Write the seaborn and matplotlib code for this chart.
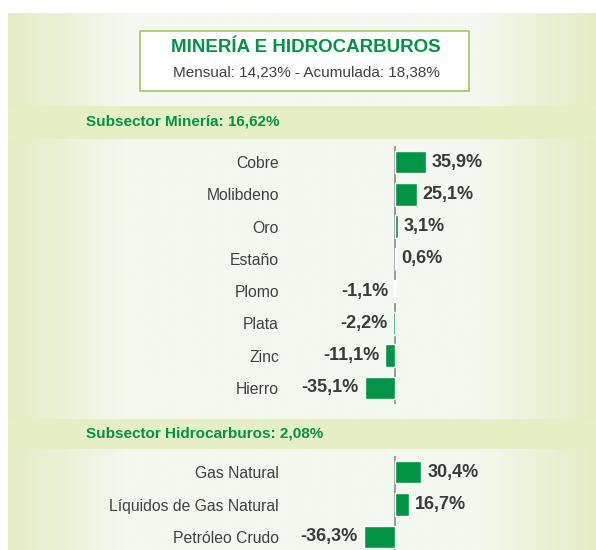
import numpy as np
import pandas as pd
import matplotlib
matplotlib.use("Agg")
import matplotlib.pyplot as plt
import seaborn as sns
from matplotlib import font_manager
from matplotlib.patches import Rectangle

# Data
mineria_items = ["Cobre", "Molibdeno", "Oro", "Estaño", "Plomo", "Plata", "Zinc", "Hierro"]
mineria_values = [35.9, 25.1, 3.1, 0.6, -1.1, -2.2, -11.1, -35.1]
hidro_items = ["Gas Natural", "Líquidos de Gas Natural", "Petróleo Crudo"]
hidro_values = [30.4, 16.7, -36.3]

title = "MINERÍA E HIDROCARBUROS"
subtitle = "Mensual: 14,23% - Acumulada: 18,38%"
sub1 = "Subsector Minería: 16,62%"
sub2 = "Subsector Hidrocarburos: 2,08%"

GREEN = "#009444"
TEXT = "#404040"
W, H = 596, 550

sns.set_theme(style="white")
names = {f.name for f in font_manager.fontManager.ttflist}
narrow = "Liberation Sans Narrow" if "Liberation Sans Narrow" in names else "Liberation Sans"
plt.rcParams["font.family"] = [narrow, "DejaVu Sans"]

fig = plt.figure(figsize=(W / 100, H / 100), dpi=100)
fig.patch.set_facecolor("white")


def fx(px):
    return px / W


def fy(py):
    return 1 - py / H


# background panel with horizontal gradient
bg = fig.add_axes([fx(8), 0, fx(W - 8), fy(13)])
xs = np.linspace(0, 1, 600)
edge = np.array([229, 236, 196]) / 255
mid = np.array([243, 248, 240]) / 255
t = np.clip(np.minimum(xs, 1 - xs) / 0.2, 0, 1)
row = edge[None, :] * (1 - t[:, None]) + mid[None, :] * t[:, None]
bg.imshow(np.repeat(row[None, :, :], 2, axis=0), aspect="auto", extent=[0, 1, 0, 1])
bg.set_axis_off()

# section bands
for top, bot in [(106, 139), (419, 449)]:
    fig.patches.append(Rectangle((fx(8), fy(bot)), fx(W - 8), (bot - top) / H,
                                 transform=fig.transFigure, facecolor="#e6eec4",
                                 edgecolor="none", zorder=1))

# title box
fig.patches.append(Rectangle((fx(140), fy(91)), fx(329), 60 / H, transform=fig.transFigure,
                             facecolor="white", edgecolor="#9ccc5a", linewidth=1.2, zorder=2))
fig.text(fx(306), fy(47), title, ha="center", va="center", color=GREEN,
         fontsize=13.5, fontweight="bold", zorder=3)
fig.text(fx(306), fy(73), subtitle, ha="center", va="center", color=TEXT,
         fontsize=11, zorder=3)
fig.text(fx(86), fy(122), sub1, ha="left", va="center", color=GREEN,
         fontsize=11, fontweight="bold", zorder=3)
fig.text(fx(86), fy(434), sub2, ha="left", va="center", color=GREEN,
         fontsize=11, fontweight="bold", zorder=3)

ZERO, LEFT, RIGHT = 395, 290, 590
SCALE = 0.86
xlim = (-(ZERO - LEFT) / SCALE, (RIGHT - ZERO) / SCALE)


def bar_panel(items, values, top, bottom):
    ax = fig.add_axes([fx(LEFT), fy(bottom), fx(RIGHT - LEFT), (bottom - top) / H])
    ax.patch.set_alpha(0)
    df = pd.DataFrame({"item": items, "value": values})
    sns.barplot(data=df, y="item", x="value", color=GREEN, saturation=1,
                width=0.69, orient="h", ax=ax)
    ax.set_xlim(*xlim)
    ax.set_ylim(len(items) - 0.5, -0.5)
    ax.axvline(0, color="#8a8a8a", linewidth=1.2, zorder=0)
    for s in ax.spines.values():
        s.set_visible(False)
    ax.set_xticks([])
    ax.set_xlabel("")
    ax.set_ylabel("")
    ax.tick_params(axis="y", length=0, pad=8, labelsize=11.3, labelcolor=TEXT)
    for i, v in enumerate(values):
        lab = f"{v:.1f}%".replace(".", ",")
        off = 6 / SCALE
        ax.text(v + off if v >= 0 else v - off, i, lab, ha="left" if v >= 0 else "right",
                va="center", color="#3a3a3a", fontsize=13, fontweight="bold")
    return ax


bar_panel(mineria_items, mineria_values, 146, 404)
bar_panel(hidro_items, hidro_values, 456, 553)

fig.savefig("out.png", dpi=100)
